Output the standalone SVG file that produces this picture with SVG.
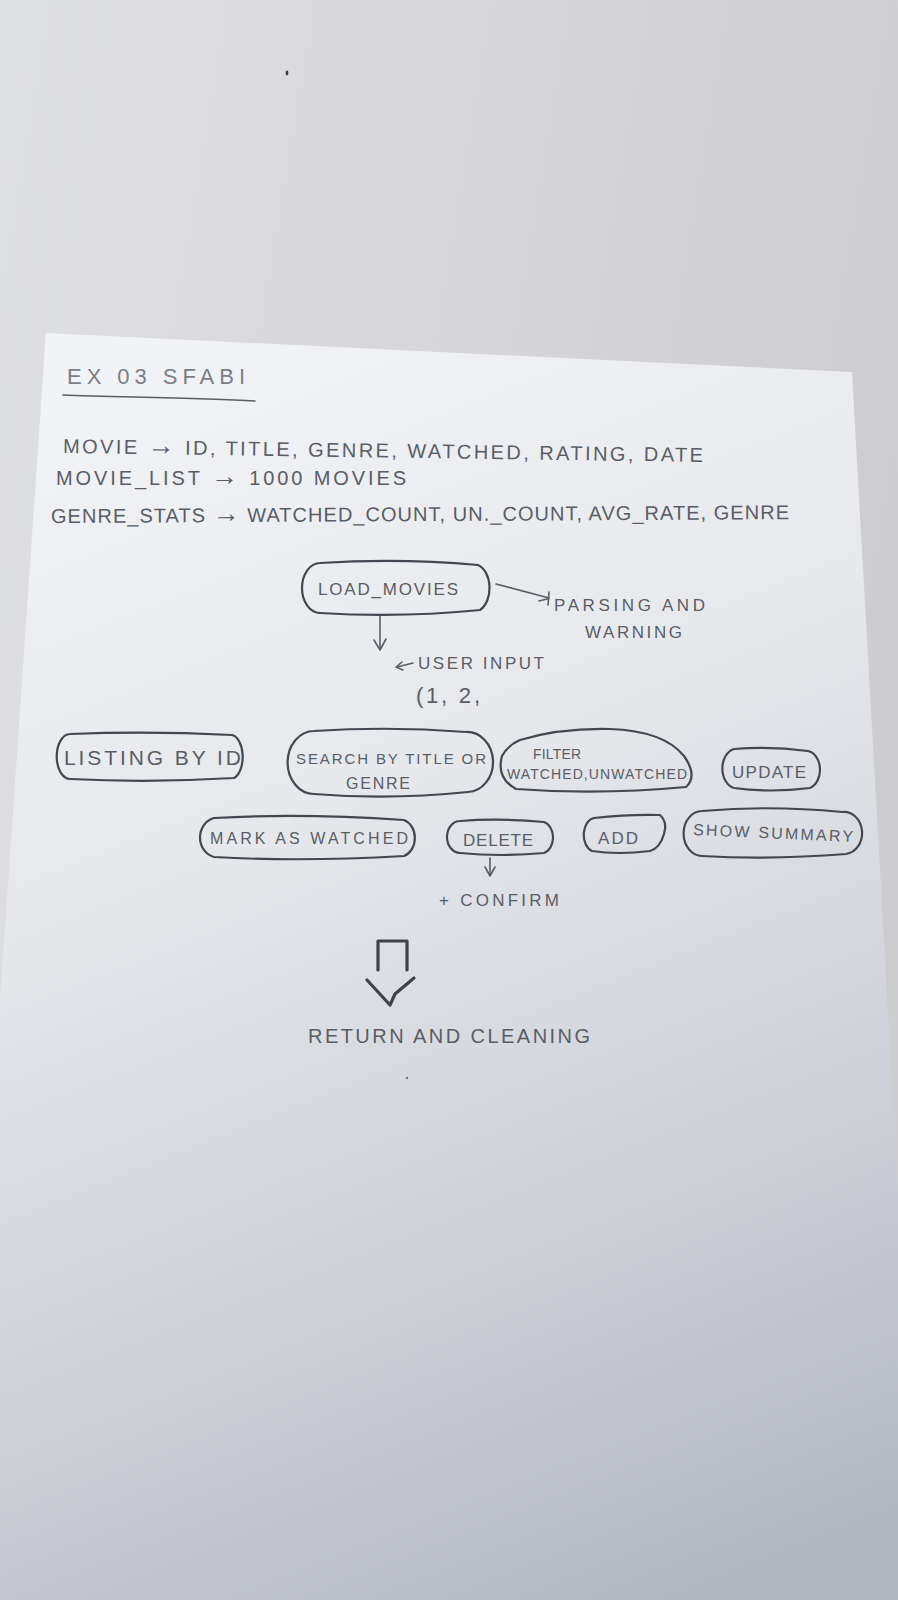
<svg xmlns="http://www.w3.org/2000/svg" width="898" height="1600" viewBox="0 0 898 1600">
  <defs>
    <linearGradient id="wall" x1="0" y1="0" x2="1" y2="0.3">
      <stop offset="0" stop-color="#dfe0e3"/>
      <stop offset="0.5" stop-color="#d7d7d9"/>
      <stop offset="1" stop-color="#cdcdcf"/>
    </linearGradient>
    <linearGradient id="sheet" gradientUnits="userSpaceOnUse" x1="200" y1="340" x2="700" y2="1600">
      <stop offset="0" stop-color="#f2f3f6"/>
      <stop offset="0.35" stop-color="#e6e8ec"/>
      <stop offset="0.7" stop-color="#cdd0d7"/>
      <stop offset="1" stop-color="#b3b7c0"/>
    </linearGradient>
    <style>
      .pen { font-family: "Liberation Sans", "DejaVu Sans", sans-serif; fill: #5a5d65; }
      .faint { fill: #7b7e86; }
      .arrow { font-size: 1.35em; }
      .outline { fill: none; stroke: #44474f; stroke-width: 2.2; stroke-linecap: round; stroke-linejoin: round; }
      .line { fill: none; stroke: #5a5d65; stroke-width: 1.6; stroke-linecap: round; stroke-linejoin: round; }
      .heavy { fill: none; stroke: #3f4249; stroke-width: 3.2; stroke-linecap: round; stroke-linejoin: round; }
    </style>
  </defs>

  <!-- wall behind the sheet -->
  <rect x="0" y="0" width="898" height="1600" fill="url(#wall)"/>
  <ellipse cx="287" cy="73" rx="1.4" ry="2.4" fill="#3a3c42"/>

  <!-- sheet of paper -->
  <polygon points="46,333 852,372 898,1190 898,1600 0,1600 0,1000" fill="url(#sheet)"/>
  <ellipse cx="407" cy="1078" rx="1" ry="1.3" fill="#6a6d75"/>

  <!-- header notes -->
  <g id="header">
    <text class="pen faint" x="67" y="384" font-size="22" textLength="178" lengthAdjust="spacing">EX 03 SFABI</text>
    <path class="line" d="M63 395 C120 397 200 398 255 401" stroke="#8a8d94" stroke-width="1.3"/>
    <text class="pen" x="63" y="453" font-size="20" textLength="640" lengthAdjust="spacing" transform="rotate(0.8 63 453)">MOVIE <tspan class="arrow">→</tspan> ID, TITLE, GENRE, WATCHED, RATING, DATE</text>
    <text class="pen" x="56" y="485" font-size="20" textLength="350" lengthAdjust="spacing">MOVIE_LIST <tspan class="arrow">→</tspan> 1000 MOVIES</text>
    <text class="pen" x="51" y="523" font-size="20" textLength="738" lengthAdjust="spacing" transform="rotate(-0.3 51 523)">GENRE_STATS <tspan class="arrow">→</tspan> WATCHED_COUNT, UN._COUNT, AVG_RATE, GENRE</text>
  </g>

  <!-- flow nodes -->
  <g id="load-movies">
    <path class="outline" d="M320 563 Q400 558 478 565 A16 24 0 0 1 480 610 Q400 618 320 613 A18 25 0 0 1 320 563 Z"/>
    <text class="pen" x="318" y="595" font-size="17" textLength="140" lengthAdjust="spacing">LOAD_MOVIES</text>
  </g>

  <g id="parsing-note">
    <text class="pen" x="554" y="611" font-size="17" textLength="151" lengthAdjust="spacing">PARSING AND</text>
    <text class="pen" x="585" y="638" font-size="17" textLength="97" lengthAdjust="spacing">WARNING</text>
  </g>

  <g id="user-input">
    <text class="pen" x="418" y="669" font-size="17" textLength="126" lengthAdjust="spacing">USER INPUT</text>
    <text class="pen" x="416" y="703" font-size="22" textLength="64" lengthAdjust="spacing">(1, 2,</text>
  </g>

  <g id="listing">
    <path class="outline" d="M70 734 Q150 731 232 735 A12 22 0 0 1 234 778 Q150 783 70 779 A13 22 0 0 1 70 734 Z"/>
    <text class="pen" x="64" y="765" font-size="21" textLength="177" lengthAdjust="spacing">LISTING BY ID</text>
  </g>

  <g id="search">
    <path class="outline" d="M314 731 Q390 726 466 732 A26 30 0 0 1 468 792 Q390 800 314 794 A26 31 0 0 1 314 731 Z"/>
    <text class="pen" x="296" y="764" font-size="15" textLength="190" lengthAdjust="spacing">SEARCH BY TITLE OR</text>
    <text class="pen" x="346" y="789" font-size="16" textLength="64" lengthAdjust="spacing">GENRE</text>
  </g>

  <g id="filter">
    <path class="outline" d="M520 740 Q560 728 610 729 Q664 731 684 756 Q698 776 686 787 Q600 795 516 789 Q496 778 502 756 Q508 745 520 740 Z"/>
    <text class="pen" x="533" y="759" font-size="14" textLength="48" lengthAdjust="spacing">FILTER</text>
    <text class="pen" x="507" y="779" font-size="14" textLength="180" lengthAdjust="spacing">WATCHED,UNWATCHED</text>
  </g>

  <g id="update">
    <path class="outline" d="M734 749 Q770 746 808 751 A14 19 0 0 1 810 788 Q770 793 734 788 A15 20 0 0 1 734 749 Z"/>
    <text class="pen" x="732" y="778" font-size="17" textLength="74" lengthAdjust="spacing">UPDATE</text>
  </g>

  <g id="mark-watched">
    <path class="outline" d="M214 818 Q300 813 404 820 A16 19 0 0 1 404 856 Q300 862 214 857 A18 20 0 0 1 214 818 Z"/>
    <text class="pen" x="210" y="844" font-size="16" textLength="198" lengthAdjust="spacing">MARK AS WATCHED</text>
  </g>

  <g id="delete">
    <path class="outline" d="M460 821 Q500 818 544 822 A12 16 0 0 1 544 853 Q500 857 460 853 A13 16 0 0 1 460 821 Z"/>
    <text class="pen" x="463" y="846" font-size="17" textLength="70" lengthAdjust="spacing">DELETE</text>
  </g>

  <g id="add">
    <path class="outline" d="M594 818 Q630 814 660 815 Q668 822 664 834 Q660 848 650 851 Q618 855 592 851 A12 17 0 0 1 594 818 Z"/>
    <text class="pen" x="598" y="844" font-size="17" textLength="40" lengthAdjust="spacing">ADD</text>
  </g>

  <g id="summary">
    <path class="outline" d="M702 811 Q770 805 842 812 A18 21 0 0 1 846 854 Q770 860 702 856 A18 22 0 0 1 702 811 Z"/>
    <text class="pen" x="693" y="835" font-size="16" textLength="160" lengthAdjust="spacing" transform="rotate(2.5 693 835)">SHOW SUMMARY</text>
  </g>

  <g id="confirm">
    <text class="pen" x="439" y="906" font-size="17" textLength="120" lengthAdjust="spacing">+ CONFIRM</text>
  </g>

  <g id="return-cleaning">
    <text class="pen" x="308" y="1043" font-size="20" textLength="282" lengthAdjust="spacing">RETURN AND CLEANING</text>
  </g>

  <!-- connectors -->
  <g id="connectors">
    <!-- load_movies to parsing note -->
    <path class="line" d="M496 584 L549 598"/>
    <path class="line" d="M539 601 L547 599 M549 592 L548 605"/>
    <!-- load_movies down to user input -->
    <path class="line" d="M380 616 L380 648"/>
    <path class="line" d="M374 640 L380 650 L386 639"/>
    <!-- pointer into user input -->
    <path class="line" d="M413 663 L397 667"/>
    <path class="line" d="M402 662 L396 667 L403 670"/>
    <!-- delete down to confirm -->
    <path class="line" d="M490 858 L490 874"/>
    <path class="line" d="M485 867 L490 876 L495 867"/>
    <!-- block arrow down to return and cleaning -->
    <path class="heavy" d="M378 970 L378 941 L407 941 L407 970" stroke-width="2.6"/>
    <path class="heavy" d="M367 980 L390 1005 L395 994 L414 978"/>
  </g>
</svg>
